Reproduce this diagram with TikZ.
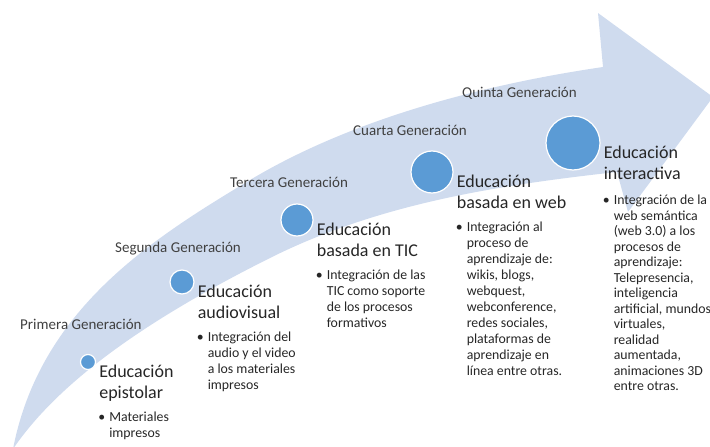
\documentclass[tikz,border=0pt]{standalone}
\usepackage{fontspec}
\setmainfont{Carlito}
\usepackage{tikz}
\usetikzlibrary{positioning}

\definecolor{bandblue}{RGB}{207,219,238}
\definecolor{dotblue}{RGB}{91,155,213}
\definecolor{gengray}{RGB}{64,64,64}
\definecolor{textdark}{RGB}{38,38,38}

\newcommand{\bul}{\llap{\textbullet\hspace{4pt}}}

\begin{document}
\begin{tikzpicture}[x=1pt, y=-1pt,
    gen/.style={anchor=base west, inner sep=0pt, text=gengray, font=\fontsize{15}{17}\selectfont},
    dot/.style={circle, fill=dotblue, draw=white, line width=1.2pt, inner sep=0pt, minimum size=#1},
    title/.style={anchor=north west, inner sep=0pt, align=left, text=textdark, font=\fontsize{18}{21}\selectfont},
    items/.style={anchor=north west, inner sep=0pt, align=left, text=textdark, font=\fontsize{13.8}{16}\selectfont}]
    \useasboundingbox (0,0) rectangle (710,447);

    \fill[bandblue] (13,449) .. controls (40,310) and (150,240) .. (250,180)
        .. controls (350,120) and (480,85) .. (603,67) -- (598,13) -- (713,97)
        -- (628,212) -- (617,172) .. controls (500,185) and (380,203) .. (270,258)
        .. controls (150,318) and (60,380) .. (13,449) -- cycle;

    \node[gen] (g1) at (20,329) {Primera Generación};
    \node[gen] (g2) at (115,252) {Segunda Generación};
    \node[gen] (g3) at (230,187) {Tercera Generación};
    \node[gen] (g4) at (353,135) {Cuarta Generación};
    \node[gen] (g5) at (462,97) {Quinta Generación};

    \node[dot=15pt] (c1) at (88,362) {};
    \node[dot=24pt] (c2) at (182,282) {};
    \node[dot=32pt] (c3) at (297,220) {};
    \node[dot=42pt] (c4) at (432,172) {};
    \node[dot=54pt] (c5) at (573,143) {};

    \node[title] (t1) at ([xshift=3pt, yshift=-3pt]c1.east) {Educación\\epistolar};
    \node[title] (t2) at ([xshift=3pt, yshift=-3pt]c2.east) {Educación\\audiovisual};
    \node[title] (t3) at ([xshift=3pt, yshift=-3pt]c3.east) {Educación\\basada en TIC};
    \node[title] (t4) at ([xshift=3pt, yshift=-3pt]c4.east) {Educación\\basada en web};
    \node[title] (t5) at ([xshift=3pt, yshift=-3pt]c5.east) {Educación\\interactiva};

    \node[items] (b1) at ([xshift=10pt, yshift=-47pt]t1.north west) {\bul Materiales\\impresos};
    \node[items] (b2) at ([xshift=10pt, yshift=-47pt]t2.north west) {\bul Integración del\\audio y el video\\a los materiales\\impresos};
    \node[items] (b3) at ([xshift=10pt, yshift=-47pt]t3.north west) {\bul Integración de las\\TIC como soporte\\de los procesos\\formativos};
    \node[items] (b4) at ([xshift=10pt, yshift=-47pt]t4.north west) {\bul Integración al\\proceso de\\aprendizaje de:\\wikis, blogs,\\webquest,\\webconference,\\redes sociales,\\plataformas de\\aprendizaje en\\línea entre otras.};
    \node[items, font=\fontsize{13.8}{15.5}\selectfont] (b5) at ([xshift=10pt, yshift=-49pt]t5.north west) {\bul Integración de la\\web semántica\\(web 3.0) a los\\procesos de\\aprendizaje:\\Telepresencia,\\inteligencia\\artificial, mundos\\virtuales,\\realidad\\aumentada,\\animaciones 3D\\entre otras.};
\end{tikzpicture}
\end{document}
